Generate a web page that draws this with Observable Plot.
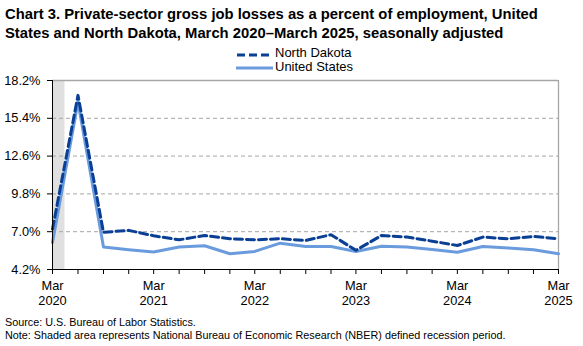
<!DOCTYPE html>
<html><head><meta charset="utf-8">
<script src="https://cdn.jsdelivr.net/npm/d3@7"></script>
<script src="https://cdn.jsdelivr.net/npm/@observablehq/plot@0.6"></script>
<style>
body{margin:0;width:583px;height:346px;position:relative;overflow:hidden;background:#fff;font-family:Arial,"Liberation Sans",sans-serif;color:#000}
#title{position:absolute;left:5px;top:5px;font-weight:bold;font-size:14.8px;line-height:18.5px;white-space:nowrap}
.legtxt{position:absolute;left:275px;font-size:13px;line-height:14px;white-space:nowrap}
.sw{position:absolute;left:236px}
#chart{position:absolute;left:0;top:70px}
.foot{position:absolute;left:5px;font-size:10.8px;line-height:13px;white-space:nowrap}
</style></head>
<body>
<div id="title">Chart 3. Private-sector gross job losses as a percent of employment, United<br>States and North Dakota, March 2020–March 2025, seasonally adjusted</div>
<svg class="sw" style="top:52px" width="37" height="6"><line x1="1" y1="3" x2="36" y2="3" stroke="#0A3F96" stroke-width="3" stroke-dasharray="8,4"/></svg>
<div class="legtxt" style="top:46.4px">North Dakota</div>
<svg class="sw" style="top:65px" width="37" height="6"><line x1="0" y1="3" x2="37" y2="3" stroke="#6A9BDD" stroke-width="3"/></svg>
<div class="legtxt" style="top:60.4px">United States</div>
<div id="chart"></div>
<div class="foot" style="top:316px">Source: U.S. Bureau of Labor Statistics.</div>
<div class="foot" style="top:329px">Note: Shaded area represents National Bureau of Economic Research (NBER) defined recession period.</div>
<script>
const quarters = ["2020-03","2020-06","2020-09","2020-12","2021-03","2021-06","2021-09","2021-12","2022-03","2022-06","2022-09","2022-12","2023-03","2023-06","2023-09","2023-12","2024-03","2024-06","2024-09","2024-12","2025-03"];
const northDakota = [7.2,17.1,6.95,7.1,6.7,6.4,6.72,6.48,6.4,6.48,6.35,6.78,5.62,6.72,6.6,6.3,5.98,6.6,6.48,6.65,6.48];
const unitedStates = [6.2,16.6,5.86,5.66,5.5,5.86,5.96,5.37,5.54,6.15,5.9,5.9,5.54,5.92,5.86,5.68,5.48,5.9,5.8,5.66,5.37];
const yTicks = [4.2,7.0,9.8,12.6,15.4,18.2];
const recession = [{start:"2020-03-01", end:"2020-04-15"}];

const parse = s => new Date(s.length === 7 ? s + "-01T00:00:00Z" : s + "T00:00:00Z");
const dates = quarters.map(parse);
const marches = dates.filter(d => d.getUTCMonth() === 2);
const nd = dates.map((d,i) => ({date:d, value:northDakota[i]}));
const us = dates.map((d,i) => ({date:d, value:unitedStates[i]}));
const rec = recession.map(r => ({start:parse(r.start), end:parse(r.end)}));

const chart = Plot.plot({
  width:583, height:244, marginTop:10, marginLeft:52, marginRight:25, marginBottom:45,
  style:{fontFamily:"Arial, 'Liberation Sans', sans-serif", fontSize:"12.8px", color:"#000", overflow:"visible", background:"transparent"},
  x:{type:"utc", domain:[dates[0], dates[dates.length-1]]},
  y:{domain:[yTicks[0], yTicks[yTicks.length-1]]},
  marks:[
    Plot.rect(rec, {x1:"start", x2:"end", fill:"#e0e0e0"}),
    Plot.ruleY(yTicks.slice(1,-1), {stroke:"#a6a6a6", strokeDasharray:"4,3"}),
    Plot.ruleY(yTicks.slice(-1), {stroke:"#a6a6a6", strokeWidth:1.3}),
    Plot.ruleX(dates.slice(-1), {stroke:"#a6a6a6", strokeWidth:1.3}),
    Plot.line(us, {x:"date", y:"value", stroke:"#6A9BDD", strokeWidth:3}),
    Plot.line(nd, {x:"date", y:"value", stroke:"#0A3F96", strokeWidth:3, strokeDasharray:"8,4"}),
    Plot.ruleX(dates.slice(0,1), {stroke:"#000"}),
    Plot.ruleY(yTicks.slice(0,1), {stroke:"#000"}),
    Plot.axisY({ticks:yTicks, tickFormat:d => d.toFixed(1) + "%", tickSize:5, tickPadding:7, label:null}),
    Plot.axisX({ticks:dates, tickFormat:() => "", tickSize:5, label:null}),
    Plot.axisX({ticks:marches, tickFormat:() => "Mar", tickSize:0, tickPadding:11, label:null}),
    Plot.axisX({ticks:marches, tickFormat:d => String(d.getUTCFullYear()), tickSize:0, tickPadding:26, label:null})
  ]
});
document.getElementById("chart").appendChild(chart);
</script>
</body></html>
